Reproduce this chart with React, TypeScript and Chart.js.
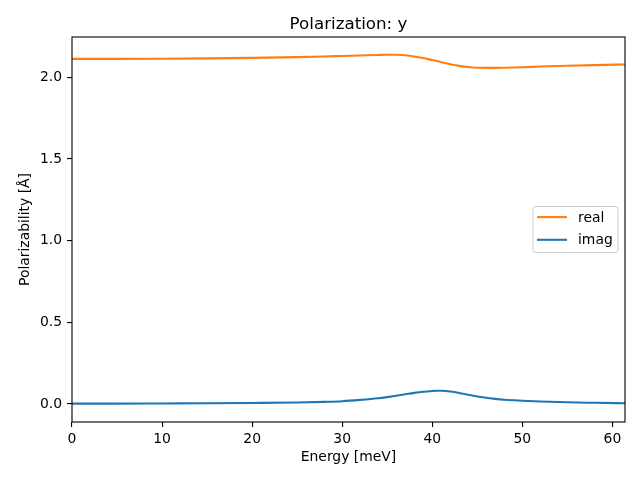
import React, { useEffect, useRef } from 'react';
import { Chart, registerables } from 'chart.js';

Chart.register(...registerables);

const energy = [0, 5, 10, 15, 20, 25, 28, 30, 32, 34, 35, 36, 37, 38, 39, 40, 40.5, 41, 41.5, 42, 43, 44, 45, 46, 47, 48, 50, 52, 55, 58, 61.5];
const realValues = [2.113, 2.113, 2.114, 2.116, 2.119, 2.124, 2.128, 2.131, 2.134, 2.137, 2.138, 2.138, 2.135, 2.128, 2.118, 2.106, 2.1, 2.093, 2.086, 2.08, 2.07, 2.063, 2.059, 2.058, 2.058, 2.059, 2.062, 2.066, 2.071, 2.075, 2.079];
const imagValues = [0.002, 0.002, 0.003, 0.004, 0.006, 0.009, 0.013, 0.017, 0.025, 0.035, 0.042, 0.05, 0.059, 0.068, 0.075, 0.0795, 0.081, 0.0805, 0.079, 0.076, 0.067, 0.056, 0.046, 0.038, 0.031, 0.026, 0.02, 0.015, 0.01, 0.007, 0.004];
const xTicks = [0, 10, 20, 30, 40, 50, 60];
const yTicks = [0, 0.5, 1.0, 1.5, 2.0];
const seriesNames = ['real', 'imag'];
const seriesColors = ['#ff7f0e', '#1f77b4'];
const titleText = 'Polarization: y';
const xLabel = 'Energy [meV]';
const yLabel = 'Polarizability [Å]';

const FONT = 'DejaVu Sans';

const decorPlugin = {
  id: 'decor',
  afterDraw(chart: any) {
    const { ctx, chartArea } = chart;
    const { left, right, top, bottom } = chartArea;
    ctx.save();
    ctx.strokeStyle = '#000';
    ctx.lineWidth = 1.1;
    ctx.strokeRect(left, top, right - left, bottom - top);
    ctx.fillStyle = '#000';
    ctx.font = `16.7px "${FONT}"`;
    ctx.textAlign = 'center';
    ctx.textBaseline = 'alphabetic';
    ctx.fillText(titleText, (left + right) / 2, top - 8.3);
    const bx = right - 92, by = (top + bottom) / 2 - 23, bw = 85, bh = 46;
    ctx.fillStyle = 'rgba(255,255,255,0.8)';
    ctx.strokeStyle = '#cccccc';
    ctx.lineWidth = 1;
    ctx.beginPath();
    const r = 3;
    ctx.moveTo(bx + r, by);
    ctx.lineTo(bx + bw - r, by);
    ctx.quadraticCurveTo(bx + bw, by, bx + bw, by + r);
    ctx.lineTo(bx + bw, by + bh - r);
    ctx.quadraticCurveTo(bx + bw, by + bh, bx + bw - r, by + bh);
    ctx.lineTo(bx + r, by + bh);
    ctx.quadraticCurveTo(bx, by + bh, bx, by + bh - r);
    ctx.lineTo(bx, by + r);
    ctx.quadraticCurveTo(bx, by, bx + r, by);
    ctx.closePath();
    ctx.fill();
    ctx.stroke();
    ctx.font = `13.9px "${FONT}"`;
    ctx.textAlign = 'left';
    ctx.textBaseline = 'middle';
    seriesNames.forEach((name, i) => {
      const ly = by + 10.6 + i * 22.7;
      ctx.strokeStyle = seriesColors[i];
      ctx.lineWidth = 2.1;
      ctx.beginPath();
      ctx.moveTo(bx + 4, ly);
      ctx.lineTo(bx + 34, ly);
      ctx.stroke();
      ctx.fillStyle = '#000';
      ctx.fillText(name, bx + 45, ly + 1);
    });
    ctx.restore();
  },
};

export default function App() {
  const ref = useRef<HTMLCanvasElement>(null);
  useEffect(() => {
    document.body.style.margin = '0';
    const canvas = ref.current!;
    const chart = new Chart(canvas, {
      type: 'line',
      data: {
        datasets: seriesNames.map((name, i) => ({
          label: name,
          data: energy.map((x, j) => ({ x, y: i === 0 ? realValues[j] : imagValues[j] })),
          borderColor: seriesColors[i],
          backgroundColor: seriesColors[i],
          borderWidth: 2.1,
          pointRadius: 0,
          cubicInterpolationMode: 'monotone' as const,
          fill: false,
        })),
      },
      options: {
        animation: false,
        responsive: false,
        devicePixelRatio: 1,
        layout: { padding: { top: 37, right: 15, left: 0, bottom: 0 } },
        plugins: {
          legend: { display: false },
          title: { display: false },
          tooltip: { enabled: false },
        },
        scales: {
          x: {
            type: 'linear',
            min: 0,
            max: 61.4,
            afterBuildTicks: (s: any) => {
              s.ticks = xTicks.map((v) => ({ value: v }));
            },
            afterFit: (s: any) => {
              s.height = 58;
            },
            grid: { drawOnChartArea: false, drawTicks: true, tickLength: 5, tickColor: '#000', lineWidth: 1.1 },
            border: { display: false },
            ticks: {
              color: '#000',
              font: { family: FONT, size: 13.9 },
              padding: 4,
              maxRotation: 0,
              callback: (v: any) => String(v),
            },
            title: {
              display: true,
              text: xLabel,
              color: '#000',
              font: { family: FONT, size: 13.9 },
              padding: { top: 0, bottom: 14 },
            },
          },
          y: {
            type: 'linear',
            min: -0.1105,
            max: 2.247,
            afterBuildTicks: (s: any) => {
              s.ticks = yTicks.map((v) => ({ value: v }));
            },
            afterFit: (s: any) => {
              s.width = 72;
            },
            grid: { drawOnChartArea: false, drawTicks: true, tickLength: 5, tickColor: '#000', lineWidth: 1.1 },
            border: { display: false },
            ticks: {
              color: '#000',
              font: { family: FONT, size: 13.9 },
              padding: 5,
              callback: (v: any) => Number(v).toFixed(1),
            },
            title: {
              display: true,
              text: yLabel,
              color: '#000',
              font: { family: FONT, size: 13.9 },
              padding: { top: 17, bottom: 0 },
            },
          },
        },
      },
      plugins: [decorPlugin],
    });
    return () => chart.destroy();
  }, []);
  return <canvas ref={ref} width={640} height={480} style={{ display: 'block' }} />;
}
